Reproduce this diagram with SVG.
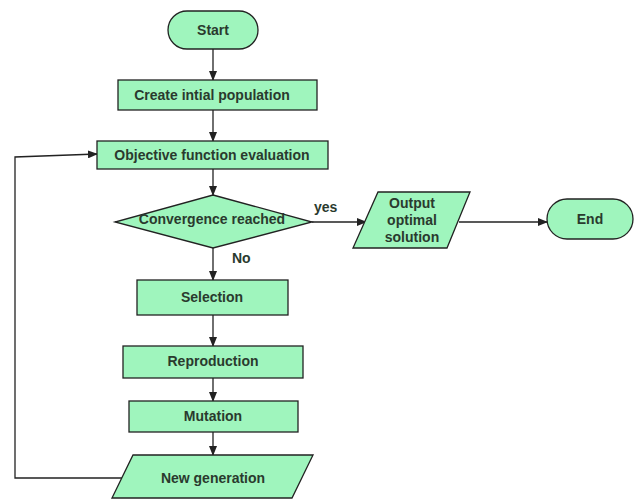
<svg xmlns="http://www.w3.org/2000/svg" width="636" height="500" viewBox="0 0 636 500">
<defs>
<marker id="ah" markerWidth="10" markerHeight="8" refX="9" refY="4" orient="auto" markerUnits="userSpaceOnUse">
<path d="M0,0 L10,4 L0,8 Z" fill="#222"/>
</marker>
<style>
.n{fill:#9ff5bd;stroke:#222;stroke-width:1.3}
.t{font-family:"Liberation Sans",Arial,sans-serif;font-weight:bold;font-size:14px;fill:#2a3a2e;text-anchor:middle;dominant-baseline:central}
.c{fill:none;stroke:#222;stroke-width:1.3}
.l{font-family:"Liberation Sans",Arial,sans-serif;font-weight:bold;font-size:14px;fill:#2a3a2e}
</style>
</defs>
<rect width="636" height="500" fill="#fff"/>
<g id="connectors">
<line class="c" x1="213" y1="49" x2="213" y2="80" marker-end="url(#ah)"/>
<line class="c" x1="213" y1="110" x2="213" y2="141" marker-end="url(#ah)"/>
<line class="c" x1="213" y1="169" x2="213" y2="195" marker-end="url(#ah)"/>
<line class="c" x1="213" y1="248" x2="213" y2="280" marker-end="url(#ah)"/>
<line class="c" x1="213" y1="315" x2="213" y2="346" marker-end="url(#ah)"/>
<line class="c" x1="213" y1="378" x2="213" y2="401" marker-end="url(#ah)"/>
<line class="c" x1="213" y1="432" x2="213" y2="455" marker-end="url(#ah)"/>
<line class="c" x1="312" y1="222" x2="366" y2="222" marker-end="url(#ah)"/>
<line class="c" x1="459" y1="222" x2="547" y2="222" marker-end="url(#ah)"/>
<polyline class="c" points="122,478 15,478 15,157 97,154" marker-end="url(#ah)"/>
<text class="l" x="314" y="212">yes</text>
<text class="l" x="232" y="263">No</text>
</g>
<g id="start">
<rect class="n" x="168" y="11" width="90" height="38" rx="19"/>
<text class="t" x="213" y="30">Start</text>
</g>
<g id="create">
<rect class="n" x="118" y="80" width="199" height="30"/>
<text class="t" x="212" y="95">Create intial population</text>
</g>
<g id="objective">
<rect class="n" x="97" y="141" width="231" height="28"/>
<text class="t" x="212" y="155">Objective function evaluation</text>
</g>
<g id="convergence">
<polygon class="n" points="213,195 312,222 213,248 115,222"/>
<text class="t" x="212" y="219">Convergence reached</text>
</g>
<g id="output">
<polygon class="n" points="378,192 470,192 447,248 353,248"/>
<text class="t" x="412" y="203">Output</text>
<text class="t" x="412" y="220">optimal</text>
<text class="t" x="412" y="237">solution</text>
</g>
<g id="end">
<rect class="n" x="547" y="199" width="86" height="40" rx="20"/>
<text class="t" x="590" y="219">End</text>
</g>
<g id="selection">
<rect class="n" x="137" y="280" width="151" height="35"/>
<text class="t" x="212" y="297">Selection</text>
</g>
<g id="reproduction">
<rect class="n" x="123" y="346" width="180" height="32"/>
<text class="t" x="213" y="361">Reproduction</text>
</g>
<g id="mutation">
<rect class="n" x="129" y="401" width="169" height="31"/>
<text class="t" x="213" y="416">Mutation</text>
</g>
<g id="newgen">
<polygon class="n" points="133,455 313,455 292,498 112,498"/>
<text class="t" x="213" y="478">New generation</text>
</g>
</svg>
